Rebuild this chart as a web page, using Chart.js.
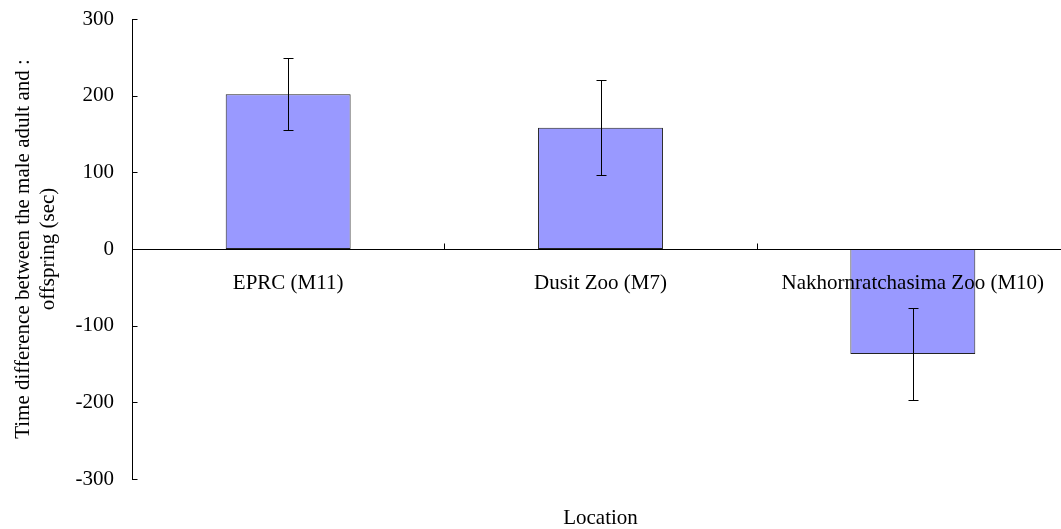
<!DOCTYPE html>
<html>
<head>
<meta charset="utf-8">
<script src="https://cdn.jsdelivr.net/npm/chart.js@4/dist/chart.umd.min.js"></script>
<style>
  html, body { margin: 0; padding: 0; background: #fff; overflow: hidden; }
  #wrap { position: relative; width: 1070px; height: 529px; }
</style>
</head>
<body>
<div id="wrap"><canvas id="c"></canvas></div>
<script>
// Mean time difference per location with its error (± sec)
const locations = ['EPRC (M11)', 'Dusit Zoo (M7)', 'Nakhornratchasima Zoo (M10)'];
const meanDiff = [202, 158, -137];
const errDiff = [47, 62, 60];
const yTicks = [-300, -200, -100, 0, 100, 200, 300];
const yTitle = ['Time difference between the male adult and :', 'offspring (sec)'];
const xTitle = 'Location';

Chart.defaults.font.family = '"Liberation Serif", "Times New Roman", serif';
Chart.defaults.font.size = 21;
Chart.defaults.color = '#000';

// Error bars plus inward-pointing tick marks on both axes
const extras = {
  id: 'extras',
  afterDraw(chart) {
    const { ctx, scales: { x, y }, chartArea } = chart;
    ctx.save();
    ctx.strokeStyle = '#000';
    ctx.lineWidth = 1;
    ctx.beginPath();
    meanDiff.forEach((v, i) => {
      const px = Math.round(x.getPixelForValue(i)) + 0.5;
      const hi = Math.round(y.getPixelForValue(v + errDiff[i])) + 0.5;
      const lo = Math.round(y.getPixelForValue(v - errDiff[i])) + 0.5;
      ctx.moveTo(px, hi); ctx.lineTo(px, lo);
      ctx.moveTo(px - 5, hi); ctx.lineTo(px + 5, hi);
      ctx.moveTo(px - 5, lo); ctx.lineTo(px + 5, lo);
    });
    const left = Math.round(chartArea.left) + 0.5;
    yTicks.forEach(t => {
      const py = Math.round(y.getPixelForValue(t)) + 0.5;
      ctx.moveTo(left, py); ctx.lineTo(left + 5, py);
    });
    const zero = Math.round(y.getPixelForValue(0)) + 0.5;
    for (let i = 0; i <= locations.length; i++) {
      const bx = Math.round(x.getPixelForValue(i - 0.5)) + 0.5;
      ctx.moveTo(bx, zero); ctx.lineTo(bx, zero - 6);
    }
    ctx.stroke();
    ctx.restore();
  }
};

new Chart(document.getElementById('c'), {
  type: 'bar',
  data: {
    labels: locations,
    datasets: [{
      data: meanDiff,
      backgroundColor: '#9999FF',
      borderColor: '#222',
      borderWidth: 1,
      borderSkipped: false,
      categoryPercentage: 1,
      barPercentage: 0.4
    }]
  },
  options: {
    responsive: true,
    maintainAspectRatio: false,
    animation: false,
    layout: { padding: { top: 19, right: 1, left: 0, bottom: 0 } },
    plugins: { legend: { display: false }, tooltip: { enabled: false } },
    scales: {
      x: {
        type: 'category',
        position: { y: 0 },
        grid: { display: false, drawTicks: false },
        border: { display: true, color: '#000', width: 1, z: 1 },
        ticks: { padding: 22, maxRotation: 0, autoSkip: false, z: 1, color: '#000' }
      },
      xLabel: {
        type: 'category',
        position: 'bottom',
        grid: { display: false, drawTicks: false },
        border: { display: false },
        ticks: { display: false },
        title: { display: true, text: xTitle, font: { size: 21, lineHeight: 1 }, padding: { top: 29, bottom: 0 }, color: '#000' }
      },
      y: {
        min: yTicks[0],
        max: yTicks[yTicks.length - 1],
        grid: { display: false, drawTicks: true, tickLength: 18 },
        border: { display: true, color: '#000', width: 1 },
        ticks: { stepSize: 100, padding: 0, color: '#000' },
        title: { display: true, text: yTitle, font: { size: 21, lineHeight: 1.2 }, padding: { top: 11, bottom: 0 }, color: '#000' },
        afterFit(scale) { scale.width = 132; }
      }
    }
  },
  plugins: [extras]
});
</script>
</body>
</html>
